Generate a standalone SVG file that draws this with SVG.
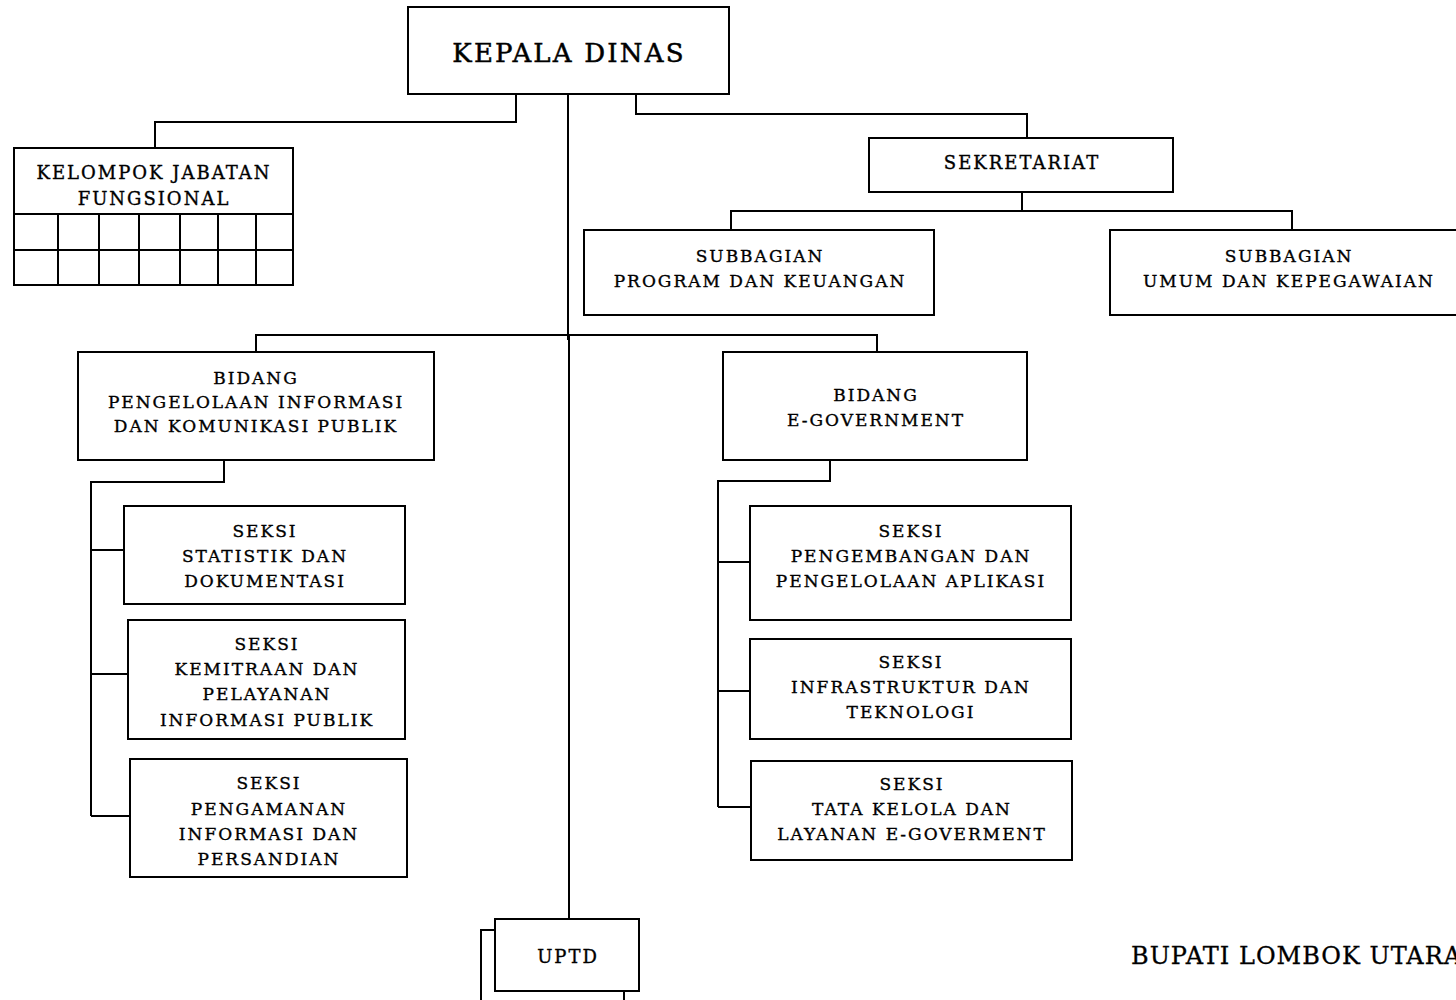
<svg xmlns="http://www.w3.org/2000/svg" width="1456" height="1000" viewBox="0 0 1456 1000">
<style>
.box{fill:#fff;stroke:#000;stroke-width:2}
.ln{fill:none;stroke:#000;stroke-width:2}
.t{font-family:"DejaVu Serif","Liberation Serif",serif;font-size:17px;letter-spacing:2px;text-anchor:middle;fill:#000;stroke:#000;stroke-width:0.35}
.big{font-size:26px;letter-spacing:2.2px;stroke-width:0.5}
.m{font-size:18px}
.b{font-family:"DejaVu Serif","Liberation Serif",serif;font-size:24px;letter-spacing:1px;fill:#000;stroke:#000;stroke-width:0.3}
</style>
<rect width="1456" height="1000" fill="#fff"/>
<g id="connectors">
<path class="ln" d="M568 94V340M569 335V919"/>
<path class="ln" d="M516 94V122H155V148"/>
<path class="ln" d="M636 94V114H1027V138"/>
<path class="ln" d="M1022 192V211H731V230M1022 211H1292V230"/>
<path class="ln" d="M256 352V335H877V352"/>
<path class="ln" d="M224 460V482H91V816M91 550H124M91 674H128M91 816H130"/>
<path class="ln" d="M830 460V481H718V807M718 562H750M718 691H750M718 807H751"/>
<path class="ln" d="M495 930H481V1000M624 991V1000"/>
</g>
<g id="kepala">
<rect class="box" x="408" y="7" width="321" height="87"/>
<text class="t big" x="569" y="62">KEPALA DINAS</text>
</g>
<g id="kelompok">
<rect class="box" x="14" y="148" width="279" height="137"/>
<path class="ln" d="M14 214H293M14 250H293M58 214V285M99 214V285M139 214V285M180 214V285M218 214V285M256 214V285"/>
<text class="t m" x="154" y="179">KELOMPOK JABATAN</text>
<text class="t m" x="154" y="205">FUNGSIONAL</text>
</g>
<g id="sekretariat">
<rect class="box" x="869" y="138" width="304" height="54"/>
<text class="t m" x="1022" y="169">SEKRETARIAT</text>
</g>
<g id="subbagian-program">
<rect class="box" x="584" y="230" width="350" height="85"/>
<text class="t" x="760" y="262">SUBBAGIAN</text>
<text class="t" x="760" y="287">PROGRAM DAN KEUANGAN</text>
</g>
<g id="subbagian-umum">
<rect class="box" x="1110" y="230" width="360" height="85"/>
<text class="t" x="1289" y="262">SUBBAGIAN</text>
<text class="t" x="1289" y="287">UMUM DAN KEPEGAWAIAN</text>
</g>
<g id="bidang-ikp">
<rect class="box" x="78" y="352" width="356" height="108"/>
<text class="t" x="256" y="384">BIDANG</text>
<text class="t" x="256" y="408">PENGELOLAAN INFORMASI</text>
<text class="t" x="256" y="432">DAN KOMUNIKASI PUBLIK</text>
</g>
<g id="bidang-egov">
<rect class="box" x="723" y="352" width="304" height="108"/>
<text class="t" x="876" y="401">BIDANG</text>
<text class="t" x="876" y="426">E-GOVERNMENT</text>
</g>
<g id="seksi-statistik">
<rect class="box" x="124" y="506" width="281" height="98"/>
<text class="t" x="265" y="537">SEKSI</text>
<text class="t" x="265" y="562">STATISTIK DAN</text>
<text class="t" x="265" y="587">DOKUMENTASI</text>
</g>
<g id="seksi-kemitraan">
<rect class="box" x="128" y="620" width="277" height="119"/>
<text class="t" x="267" y="650">SEKSI</text>
<text class="t" x="267" y="675">KEMITRAAN DAN</text>
<text class="t" x="267" y="700">PELAYANAN</text>
<text class="t" x="267" y="726">INFORMASI PUBLIK</text>
</g>
<g id="seksi-pengamanan">
<rect class="box" x="130" y="759" width="277" height="118"/>
<text class="t" x="269" y="789">SEKSI</text>
<text class="t" x="269" y="815">PENGAMANAN</text>
<text class="t" x="269" y="840">INFORMASI DAN</text>
<text class="t" x="269" y="865">PERSANDIAN</text>
</g>
<g id="seksi-aplikasi">
<rect class="box" x="750" y="506" width="321" height="114"/>
<text class="t" x="911" y="537">SEKSI</text>
<text class="t" x="911" y="562">PENGEMBANGAN DAN</text>
<text class="t" x="911" y="587">PENGELOLAAN APLIKASI</text>
</g>
<g id="seksi-infrastruktur">
<rect class="box" x="750" y="639" width="321" height="100"/>
<text class="t" x="911" y="668">SEKSI</text>
<text class="t" x="911" y="693">INFRASTRUKTUR DAN</text>
<text class="t" x="911" y="718">TEKNOLOGI</text>
</g>
<g id="seksi-tatakelola">
<rect class="box" x="751" y="761" width="321" height="99"/>
<text class="t" x="912" y="790">SEKSI</text>
<text class="t" x="912" y="815">TATA KELOLA DAN</text>
<text class="t" x="912" y="840">LAYANAN E-GOVERMENT</text>
</g>
<g id="uptd">
<rect class="box" x="495" y="919" width="144" height="72"/>
<text class="t m" x="568" y="963">UPTD</text>
</g>
<g id="bupati">
<text class="b" x="1131" y="964">BUPATI LOMBOK UTARA</text>
</g>
</svg>
